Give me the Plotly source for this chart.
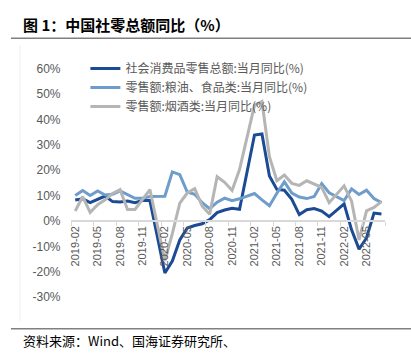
import plotly.graph_objects as go

# ---------------- data ----------------
months = (
    ["2019-%02d" % m for m in range(2, 13)]
    + ["2020-%02d" % m for m in range(1, 13)]
    + ["2021-%02d" % m for m in range(1, 13)]
    + ["2022-%02d" % m for m in range(1, 8)]
)

total_retail = [8.2, 8.7, 7.2, 8.6, 9.8, 7.6, 7.5, 7.8, 7.2, 8.0, 8.0,
                None, -20.5, -15.8, -7.5, -2.8, -1.8, -1.1, 0.5, 3.3, 4.3, 5.0, 4.6,
                None, 33.8, 34.2, 17.7, 12.4, 12.1, 8.5, 2.5, 4.4, 4.9, 3.9, 1.7,
                None, 6.7, -3.5, -11.1, -6.7, 3.1, 2.7]

food_retail = [10.0, 12.0, 10.0, 11.8, 10.2, 10.5, 11.8, 10.2, 8.9, 8.9, 9.6,
               None, 9.7, 19.3, 18.2, 11.4, 10.5, 7.2, 4.8, 7.4, 9.0, 8.0, 8.7,
               None, 10.8, 8.3, 6.0, 10.9, 15.4, 11.0, 9.4, 8.8, 9.6, 14.7, 11.1,
               None, 8.0, 12.6, 10.4, 12.1, 8.8, 7.2]

tobacco_retail = [3.9, 9.6, 3.4, 6.4, 8.3, 10.8, 12.3, 4.5, 4.5, 8.3, 12.3,
                  None, -15.7, -5.0, 7.0, 11.0, 12.7, 5.8, 2.6, 17.4, 15.2, 12.0, 20.2,
                  None, 45.5, 47.0, 25.3, 15.8, 18.1, 14.8, 14.0, 15.8, 14.6, 13.2, 7.2,
                  None, 13.8, 7.8, -7.5, 4.0, 5.3, 7.6]

series_names = ["社会消费品零售总额:当月同比(%)",
                "零售额:粮油、食品类:当月同比(%)",
                "零售额:烟酒类:当月同比(%)"]
series_values = [total_retail, food_retail, tobacco_retail]
series_colors = ["#1c4b96", "#6f9dcb", "#b5b5b5"]

y_ticks = list(range(-30, 61, 10))
y_min, y_max = -30, 60

# ---------------- layout geometry ----------------
W, H = 411, 357
x_dom = [69 / W, 385 / W]
y_dom = [(H - 302) / H, (H - 64) / H]
zero_pos = y_dom[0] + (0 - y_min) / (y_max - y_min) * (y_dom[1] - y_dom[0])

fig = go.Figure()
for name, vals, col in zip(series_names, series_values, series_colors):
    fig.add_trace(go.Scatter(
        x=months, y=vals, name=name, mode="lines",
        line=dict(color=col, width=3), connectgaps=True,
    ))

axis_font = dict(family="Liberation Sans, Arial, sans-serif", size=12, color="#595959")

fig.update_layout(
    width=W, height=H, autosize=False,
    margin=dict(l=0, r=0, t=0, b=0, pad=0),
    paper_bgcolor="white", plot_bgcolor="white",
    xaxis=dict(
        domain=x_dom, type="category",
        range=[-0.5, len(months) - 0.5],
        tickmode="linear", tick0=0, dtick=3,
        tickson="boundaries",
        ticks="outside", ticklen=4, tickcolor="#d9d9d9", tickwidth=1,
        showline=True, linecolor="#d9d9d9", linewidth=1.5,
        showgrid=False, zeroline=False,
        tickangle=-90,
        tickfont=dict(family="Liberation Sans, Arial, sans-serif", size=11, color="#595959"),
        anchor="free", position=zero_pos,
    ),
    yaxis=dict(
        domain=y_dom, range=[y_min, y_max],
        tickmode="array", tickvals=y_ticks,
        ticktext=["%d%%" % v for v in y_ticks],
        showgrid=False, zeroline=False, showline=False,
        ticks="", ticklabelstandoff=10,
        tickfont=axis_font,
    ),
    legend=dict(
        x=83 / W, y=(H - 49) / H, xanchor="left", yanchor="top",
        bgcolor="rgba(0,0,0,0)",
        font=dict(family="Noto Sans CJK SC", size=12, color="#595959"),
        tracegroupgap=0,
    ),
    showlegend=True,
)

fig.add_annotation(
    text="<b>图 1：中国社零总额同比（%）</b>",
    xref="paper", yref="paper", x=18 / W, y=(H - 18) / H,
    xanchor="left", yanchor="middle", showarrow=False,
    font=dict(family="Noto Sans CJK SC", size=15, color="#000000"),
)
fig.add_annotation(
    text="资料来源：Wind、国海证券研究所、",
    xref="paper", yref="paper", x=18 / W, y=(H - 347) / H,
    xanchor="left", yanchor="middle", showarrow=False,
    font=dict(family="Noto Sans CJK SC", size=13, color="#000000"),
)

# decorative rules
fig.add_shape(type="line", xref="paper", yref="paper",
              x0=8 / W, x1=1, y0=(H - 32.5) / H, y1=(H - 32.5) / H,
              line=dict(color="#808080", width=1.5))
fig.add_shape(type="line", xref="paper", yref="paper",
              x0=8 / W, x1=1, y0=(H - 335) / H, y1=(H - 335) / H,
              line=dict(color="#808080", width=1.5))
fig.add_shape(type="line", xref="paper", yref="paper",
              x0=17 / W, x1=17 / W, y0=(H - 40) / H, y1=(H - 327) / H,
              line=dict(color="#eeeeee", width=1))

fig.write_html(
    "out.html",
    config={"displayModeBar": False},
    post_script="document.body.style.margin='0';document.body.style.overflow='hidden';",
)
